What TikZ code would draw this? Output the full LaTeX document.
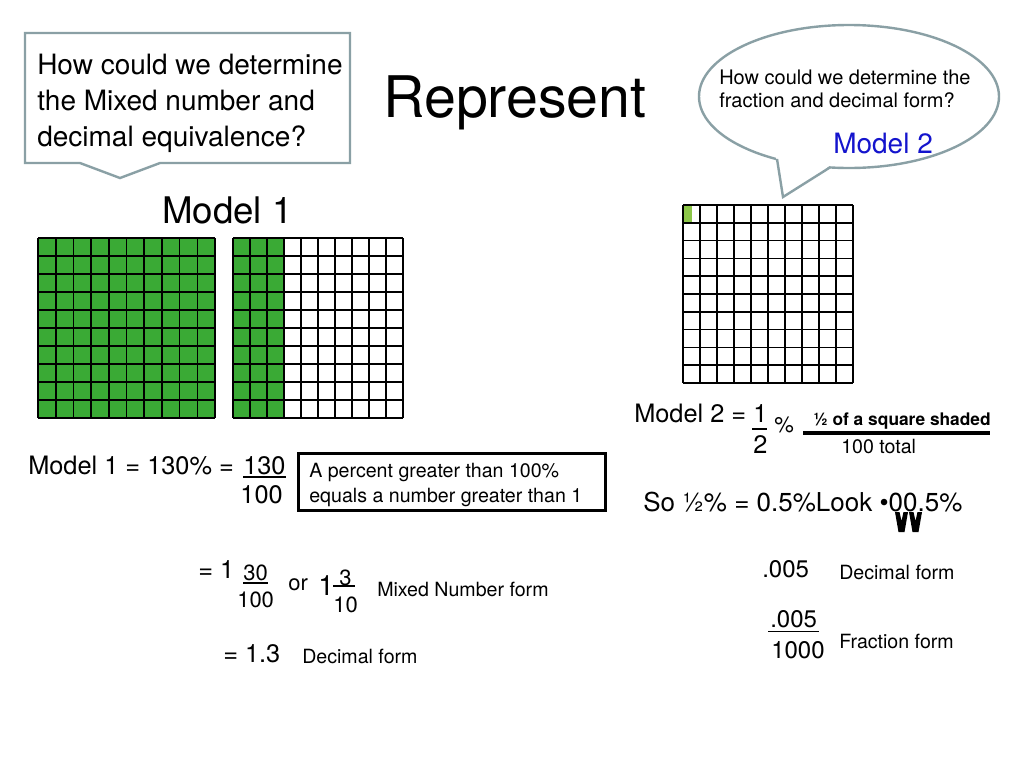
\documentclass[tikz,border=0pt]{standalone}
\usepackage{fontspec}
\setmainfont{TeX Gyre Heros}
\usetikzlibrary{positioning}
\definecolor{cellgreen}{RGB}{58,170,53}
\definecolor{halfgreen}{RGB}{140,198,72}
\definecolor{calloutline}{RGB}{138,160,165}
\definecolor{modelblue}{RGB}{20,20,205}
\begin{document}
\begin{tikzpicture}[x=0.75pt,y=-0.75pt,
	txt/.style={inner sep=0pt,anchor=base west},
	head/.style={txt,font=\fontsize{43}{50}\selectfont},
	model/.style={txt,font=\fontsize{27.5}{33}\selectfont},
	ask/.style={txt,font=\fontsize{21}{25}\selectfont},
	ask small/.style={txt,font=\fontsize{15}{18}\selectfont},
	eq/.style={txt,font=\fontsize{19}{23}\selectfont},
	frac/.style={txt,font=\fontsize{16.5}{20}\selectfont},
	note/.style={txt,font=\fontsize{14.7}{18}\selectfont},
	cell line/.style={line width=1.2pt},
	bar/.style={line width=1.4pt},
	callout/.style={draw=calloutline,line width=1.8pt,fill=white}]

	\fill[white] (0,0) rectangle (1024,768);
	\useasboundingbox (0,0) rectangle (1024,768);

	% callouts
	\draw[callout] (25,33) -- (350,33) -- (350,163) -- (160,163) -- (120,178)
		-- (80,163) -- (25,163) -- cycle;
	\draw[callout] (849,96.5) ellipse [x radius=150, y radius=71.5];
	\fill[white] (776,157) -- (783,197) -- (831,165) -- cycle;
	\draw[callout,fill=none] (777,159) -- (783,197) -- (830,167.4);

	\node[ask] (q1a) at (37,74) {How could we determine};
	\node[ask] (q1b) at (37,110) {the Mixed number and};
	\node[ask] (q1c) at (37,146) {decimal equivalence?};
	\node[ask small] (q2a) at (719,84) {How could we determine the};
	\node[ask small] (q2b) at (719,107) {fraction and decimal form?};
	\node[txt,font=\fontsize{21}{25}\selectfont,text=modelblue] (m2) at (833,153) {Model 2};

	\node[head] (title) at (383,117) {Represent};
	\node[model] (m1) at (162,223) {Model 1};

	% hundred grids
	\fill[cellgreen] (38,238) rectangle (215,418);
	\fill[cellgreen] (233,238) rectangle (284,418);
	\fill[halfgreen] (683,205) rectangle (691.5,222.8);
	\foreach \gx/\gy/\gw/\gh in {38/238/17.7/18, 233/238/17/18, 683/205/17/17.8}
		\foreach \i in {0,...,10} {
			\draw[cell line] ({\gx+\i*\gw},\gy) -- ({\gx+\i*\gw},{\gy+10*\gh});
			\draw[cell line] (\gx,{\gy+\i*\gh}) -- ({\gx+10*\gw},{\gy+\i*\gh});
		}

	% model 1
	\node[eq] (eq1) at (28,474) {Model 1 = 130\% =};
	\node[eq] (n130) at (243,474) {130};
	\node[eq,anchor=base east] (d100) at (283,503) {100};
	\draw[bar] ([yshift=-2.2pt]n130.base west) -- ([yshift=-2.2pt]n130.base east);

	\draw[line width=2.3pt] (298.5,453.5) rectangle (605.5,510.5);
	\node[note] (rule1) at (309,477) {A percent greater than 100\%};
	\node[note] (rule2) at (309,502) {equals a number greater than 1};

	\node[eq] (eq2) at (198,578) {= 1};
	\node[frac] (n30) at (243,580) {30};
	\node[frac] (d100b) at (237,607) {100};
	\draw[bar] ([yshift=-2.2pt]n30.base west) -- ([yshift=-2.2pt]n30.base east);
	\node[frac] (or) at (288,590) {or};
	\node[txt,font=\fontsize{21}{25}\selectfont] (one) at (318,595) {1};
	\node[frac] (n3) at (339,585) {3};
	\node[frac] (d10) at (333,612) {10};
	\draw[bar] (333,586) -- (355,586);
	\node[note] (mixed) at (377,596) {Mixed Number form};

	\node[eq] (eq3) at (223,662) {= 1.3};
	\node[note] (dec1) at (302,663) {Decimal form};

	% model 2
	\node[eq] (eq4) at (634,422) {Model 2 =};
	\node[eq] (n1) at (753,422) {1};
	\node[eq] (d2) at (753,453) {2};
	\draw[bar] (752,429) -- (767,429);
	\node[frac] (pct) at (774,432) {\%};
	\node[txt,font=\bfseries\fontsize{13}{16}\selectfont] (shaded) at (813,425) {½ of a square shaded};
	\draw[line width=3pt] (803,433) -- (990,433);
	\node[note] (total) at (841,453) {100 total};

	\node[txt,font=\fontsize{19.5}{23}\selectfont] (so) at (643,511) {So ½\% = 0.5\%Look •00.5\%};
	\fill (895,512) -- (899.5,512) -- (901.5,521) -- (903.5,512) -- (908,512)
		-- (904.5,532) -- (898.5,532) -- cycle;
	\fill (909,512) -- (913.5,512) -- (915.5,521) -- (917.5,512) -- (922,512)
		-- (918.5,532) -- (912.5,532) -- cycle;

	\node[eq,font=\fontsize{18}{22}\selectfont] (dec) at (762,577) {.005};
	\node[note] (dec2) at (839,579) {Decimal form};
	\node[eq,font=\fontsize{18}{22}\selectfont] (n005) at (770,627) {.005};
	\node[eq,font=\fontsize{18}{22}\selectfont] (d1000) at (771,658) {1000};
	\draw[bar] (768,631.5) -- (819,631.5);
	\node[note] (frac2) at (839,648) {Fraction form};
\end{tikzpicture}
\end{document}
